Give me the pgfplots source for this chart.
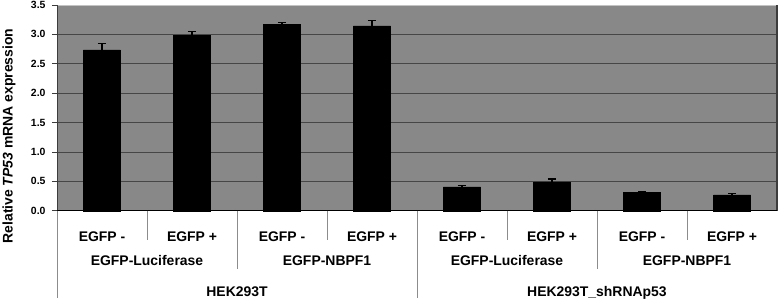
\documentclass[border=0pt]{standalone}
\usepackage{pgfplots}
\pgfplotsset{compat=1.18}
\usepackage{fontspec}
\setmainfont{Liberation Sans}
\definecolor{bg}{RGB}{136,136,136}
\definecolor{gridc}{RGB}{70,70,70}
\definecolor{sepc}{RGB}{140,140,140}
\definecolor{topc}{RGB}{195,195,195}
\definecolor{axc}{RGB}{60,60,60}
\begin{document}
\begin{tikzpicture}
\begin{axis}[
  scale only axis, width=720bp, height=205.7bp,
  xmin=-0.5, xmax=7.5, ymin=0, ymax=3.5,
  clip=false,
  axis background/.style={fill=bg},
  axis line style={draw=none},
  ybar, bar width=37bp,
  ytick={0,0.5,1,1.5,2,2.5,3,3.5},
  ymajorgrids, grid style={draw=gridc, line width=0.8pt},
  tick align=outside, ytick pos=left, major tick length=5bp,
  ytick style={draw=axc, line width=0.8pt},
  yticklabel style={/pgf/number format/.cd, fixed, fixed zerofill, precision=1, assume math mode=true, /tikz/.cd, font=\fontsize{10.5}{10.5}\selectfont\bfseries, xshift=-3bp},
  xtick={0,1,2,3,4,5,6,7},
  xticklabels={EGFP -, EGFP +, EGFP -, EGFP +, EGFP -, EGFP +, EGFP -, EGFP +},
  xtick style={draw=none},
  xticklabel style={anchor=base, yshift=-26bp, font=\fontsize{14}{14}\selectfont\bfseries},
  ylabel={Relative \textit{TP53} mRNA expression},
  every axis y label/.style={at={(axis description cs:-0.0667,0.363)}, rotate=90, anchor=center, font=\fontsize{14}{14}\selectfont\bfseries},
]
\addplot[fill=black, draw=black,
  error bars/.cd, y dir=plus, y explicit,
  error bar style={black, line width=1.2pt},
  error mark options={rotate=90, mark size=4bp, black, line width=1.2pt}]
coordinates {
  (0,2.735) +- (0,0.11)
  (1,2.986) +- (0,0.06)
  (2,3.17) +- (0,0.03)
  (3,3.146) +- (0,0.09)
  (4,0.405) +- (0,0.02)
  (5,0.49) +- (0,0.05)
  (6,0.31) +- (0,0.02)
  (7,0.27) +- (0,0.02)
};
% axis frame
\draw[topc, line width=1pt] (rel axis cs:0,1) -- (rel axis cs:1,1);
\draw[axc, line width=1.4pt] (rel axis cs:1,0) -- (rel axis cs:1,1);
\draw[axc, line width=1pt] (rel axis cs:0,1) -- (rel axis cs:0,0);
\draw[black, line width=1pt] (rel axis cs:0,0) -- (rel axis cs:1,0);
% separators below the axis
\draw[sepc, line width=0.8pt] (rel axis cs:0,0) -- ++(0pt,-87bp);
\draw[sepc, line width=0.8pt] (axis cs:3.5,0) -- ++(0pt,-87bp);
\draw[sepc, line width=0.8pt] (axis cs:1.5,0) -- ++(0pt,-58bp);
\draw[sepc, line width=0.8pt] (axis cs:5.5,0) -- ++(0pt,-58bp);
\draw[sepc, line width=0.8pt] (axis cs:0.5,0) -- ++(0pt,-29bp);
\draw[sepc, line width=0.8pt] (axis cs:2.5,0) -- ++(0pt,-29bp);
\draw[sepc, line width=0.8pt] (axis cs:4.5,0) -- ++(0pt,-29bp);
\draw[sepc, line width=0.8pt] (axis cs:6.5,0) -- ++(0pt,-29bp);
% group labels
\begin{scope}[every node/.style={font=\fontsize{14}{14}\selectfont\bfseries, anchor=base}]
\node[yshift=-54.5bp] at (axis cs:0.5,0) {EGFP-Luciferase};
\node[yshift=-54.5bp] at (axis cs:2.5,0) {EGFP-NBPF1};
\node[yshift=-54.5bp] at (axis cs:4.5,0) {EGFP-Luciferase};
\node[yshift=-54.5bp] at (axis cs:6.5,0) {EGFP-NBPF1};
\node[yshift=-85.5bp] at (axis cs:1.5,0) {HEK293T};
\node[yshift=-85.5bp] at (axis cs:5.5,0) {HEK293T\_shRNAp53};
\end{scope}
\end{axis}
\pgfresetboundingbox
\path (-57bp,-90.3bp) rectangle (721bp,210.7bp);
\end{tikzpicture}
\end{document}
